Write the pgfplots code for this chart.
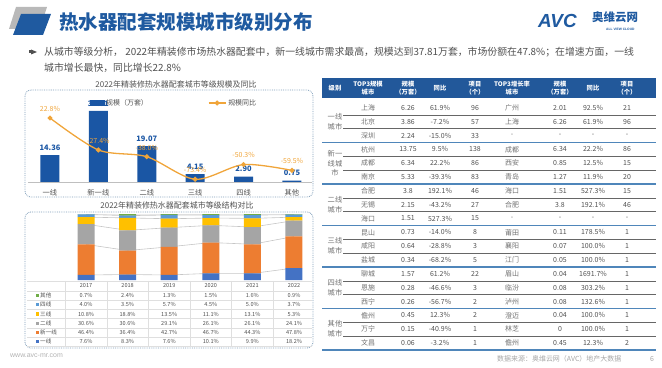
\documentclass[border=0pt]{standalone}
\usepackage{fontspec}
\setmainfont{Noto Sans CJK SC}
\newfontfamily\latinfont{Liberation Sans}
\usepackage{pgfplots}
\usepackage{pgfplotstable}
\pgfplotsset{compat=1.18}
\definecolor{titleblue}{HTML}{1F5AA0}
\definecolor{barblue}{HTML}{1A56A4}
\definecolor{lineorange}{HTML}{F0A53A}
\definecolor{hdrblue}{HTML}{22589A}
\definecolor{grpline}{HTML}{4F86BA}
\definecolor{txtgray}{HTML}{505050}
\definecolor{citygray}{HTML}{707070}
\definecolor{boxc}{HTML}{7F9DB9}
\definecolor{cA}{HTML}{4472C4}
\definecolor{cB}{HTML}{ED7D31}
\definecolor{cC}{HTML}{A5A5A5}
\definecolor{cD}{HTML}{FFC000}
\definecolor{cE}{HTML}{5B9BD5}
\definecolor{cF}{HTML}{70AD47}

\pgfplotstableread{
x v
0 14.36
1 37.81
2 19.07
3 4.15
4 2.90
5 0.75
}\scaletab
\pgfplotstableread{
x v
0 22.8
1 -27.4
2 -38.0
3 -73.4
4 -50.3
5 -59.5
}\yoytab
\pgfplotstableread{
x yi xin er san si qt
0 7.6 46.4 30.6 10.8 4.0 0.7
1 8.3 36.4 30.6 18.8 3.5 2.4
2 7.6 42.7 29.1 13.5 5.7 1.3
3 10.1 46.7 26.1 11.1 4.5 1.5
4 9.9 44.3 26.1 13.1 5.0 1.6
5 18.2 47.8 24.1 5.3 3.7 0.9
}\structtab

\tikzset{
  tcity/.style={text=citygray, font=\fontsize{7}{8}\selectfont, inner sep=0pt},
  tnum/.style={text=txtgray, font=\fontsize{7}{8}\selectfont, inner sep=0pt},
  thdr/.style={text=white, font=\bfseries\fontsize{6.3}{7.6}\selectfont, align=center, inner sep=0pt},
  tlev/.style={text=citygray, font=\fontsize{7.3}{10}\selectfont, align=center, inner sep=0pt},
  stxt/.style={text=txtgray, font=\fontsize{5.6}{6}\selectfont, inner sep=0pt},
}
\newcommand{\trow}[9]{%
  \pgfmathsetmacro{\yy}{101+13.83*(#1-0.5)}%
  \node[tcity] at (368,\yy) {#2};
  \node[tnum] at (408,\yy) {#3};
  \node[tnum] at (440,\yy) {#4};
  \node[tnum] at (475,\yy) {#5};
  \node[tcity] at (512,\yy) {#6};
  \node[tnum] at (560,\yy) {#7};
  \node[tnum] at (593,\yy) {#8};
  \node[tnum] at (627,\yy) {#9};
}
\newcommand{\srow}[9]{%
  \fill[#2] (35.5,#1-1.6) rectangle (38.7,#1+1.6);
  \node[stxt,anchor=west] at (40,#1) {#3};
  \node[stxt] at (86,#1) {#4\%};
  \node[stxt] at (127.6,#1) {#5\%};
  \node[stxt] at (169.2,#1) {#6\%};
  \node[stxt] at (210.8,#1) {#7\%};
  \node[stxt] at (252.4,#1) {#8\%};
  \node[stxt] at (294,#1) {#9\%};
}

\begin{document}
\begin{tikzpicture}[x=1bp,y=1bp]
\path[use as bounding box] (0,0) rectangle (662,367);

\begin{scope}[y=-1bp, shift={(0,367bp)}]
% title decoration
\fill[gray!55] (16,7) -- (47,7) -- (40,29) -- (9,29) -- cycle;
\fill[titleblue] (21,14) -- (51,14) -- (43,35) -- (13,35) -- cycle;
\node[anchor=west, text=titleblue, font=\bfseries\fontsize{19.6}{20}\selectfont, inner sep=0pt] at (59,22) {热水器配套规模城市级别分布};
% logo
\node[anchor=west, text=titleblue, font=\latinfont\bfseries\itshape\fontsize{19}{20}\selectfont, inner sep=0pt] at (538,21) {AVC};
\node[anchor=west, text=titleblue, font=\bfseries\fontsize{11.5}{12}\selectfont, inner sep=0pt] at (592,17) {奥维云网};
\node[anchor=west, text=titleblue, font=\latinfont\bfseries\fontsize{3.3}{4}\selectfont, inner sep=0pt] at (606,29) {ALL VIEW CLOUD};
% bullet text
\fill[txtgray] (31,49.5) -- (37,52) -- (31,54.5) -- cycle;
\fill[txtgray] (29,50.5) rectangle (30.5,53.5);
\node[anchor=west, text=txtgray, font=\fontsize{9.9}{12}\selectfont, inner sep=0pt] at (44,52) {从城市等级分析， 2022年精装修市场热水器配套中，新一线城市需求最高，规模达到37.81万套，市场份额在47.8\%；在增速方面，一线};
\node[anchor=west, text=txtgray, font=\fontsize{9.9}{12}\selectfont, inner sep=0pt] at (44,68) {城市增长最快，同比增长22.8\%};

% chart boxes and titles
\draw[boxc, densely dotted, line width=0.8bp, rounded corners=6bp] (25,90) rectangle (313,197);
\draw[boxc, densely dotted, line width=0.8bp, rounded corners=6bp] (25,212) rectangle (313,348);
\node[text=txtgray, font=\fontsize{8}{9}\selectfont, inner sep=0pt] at (176,84) {2022年精装修热水器配套城市等级规模及同比};
\node[text=txtgray, font=\fontsize{8}{9}\selectfont, inner sep=0pt] at (177,205) {2022年精装修热水器配套城市等级结构对比};

% structure data table
\foreach \yy in {281,291,300.2,309.4,318.6,327.8,337,346.2} \draw[gray!25, line width=0.5bp] (27,\yy) -- (312,\yy);
\foreach \xx in {65.2,106.8,148.4,190,231.6,273.2} \draw[gray!25, line width=0.5bp] (\xx,281) -- (\xx,346.2);
\foreach \yr/\xx in {2017/86,2018/127.6,2019/169.2,2020/210.8,2021/252.4,2022/294} \node[stxt] at (\xx,286) {\yr};
\srow{295.6}{cF}{其他}{0.7}{2.4}{1.3}{1.5}{1.6}{0.9}
\srow{304.8}{cE}{四线}{4.0}{3.5}{5.7}{4.5}{5.0}{3.7}
\srow{314}{cD}{三线}{10.8}{18.8}{13.5}{11.1}{13.1}{5.3}
\srow{323.2}{cC}{二线}{30.6}{30.6}{29.1}{26.1}{26.1}{24.1}
\srow{332.4}{cB}{新一线}{46.4}{36.4}{42.7}{46.7}{44.3}{47.8}
\srow{341.6}{cA}{一线}{7.6}{8.3}{7.6}{10.1}{9.9}{18.2}

% right table
\fill[hdrblue] (322,78) rectangle (656,98.5);
\node[thdr] at (335,88) {级别};
\node[thdr] at (368,88) {TOP3规模\\城市};
\node[thdr] at (408,88) {规模\\（万套）};
\node[thdr] at (440,88) {同比};
\node[thdr] at (475,88) {项目\\（个）};
\node[thdr] at (512,88) {TOP3增长率\\城市};
\node[thdr] at (560,88) {规模\\（万套）};
\node[thdr] at (593,88) {同比};
\node[thdr] at (627,88) {项目\\（个）};
\foreach \k in {1,2,4,5,7,8,10,11,13,14,16,17} \draw[gray!80!black, line width=0.5bp] (343,{101+13.83*\k}) -- (656,{101+13.83*\k});
\foreach \k in {3,6,9,12,15,18} \draw[grpline, line width=1.3bp] (322,{101+13.83*\k}) -- (656,{101+13.83*\k});
\trow{1}{上海}{6.26}{61.9\%}{96}{广州}{2.01}{92.5\%}{21}
\trow{2}{北京}{3.86}{-7.2\%}{57}{上海}{6.26}{61.9\%}{96}
\trow{3}{深圳}{2.24}{-15.0\%}{33}{-}{-}{-}{-}
\trow{4}{杭州}{13.75}{9.5\%}{138}{成都}{6.34}{22.2\%}{86}
\trow{5}{成都}{6.34}{22.2\%}{86}{西安}{0.85}{12.5\%}{15}
\trow{6}{南京}{5.33}{-39.3\%}{83}{青岛}{1.27}{11.9\%}{20}
\trow{7}{合肥}{3.8}{192.1\%}{46}{海口}{1.51}{527.3\%}{15}
\trow{8}{无锡}{2.15}{-43.2\%}{27}{合肥}{3.8}{192.1\%}{46}
\trow{9}{海口}{1.51}{527.3\%}{15}{-}{-}{-}{-}
\trow{10}{昆山}{0.73}{-14.0\%}{8}{莆田}{0.11}{178.5\%}{1}
\trow{11}{咸阳}{0.64}{-28.8\%}{3}{襄阳}{0.07}{100.0\%}{1}
\trow{12}{盐城}{0.34}{-68.2\%}{5}{江门}{0.05}{100.0\%}{1}
\trow{13}{聊城}{1.57}{61.2\%}{22}{眉山}{0.04}{1691.7\%}{1}
\trow{14}{恩施}{0.28}{-46.6\%}{3}{临汾}{0.08}{303.2\%}{1}
\trow{15}{西宁}{0.26}{-56.7\%}{2}{泸州}{0.08}{132.6\%}{1}
\trow{16}{儋州}{0.45}{12.3\%}{2}{澄迈}{0.04}{100.0\%}{1}
\trow{17}{万宁}{0.15}{-40.9\%}{1}{林芝}{0}{100.0\%}{1}
\trow{18}{文昌}{0.06}{-3.2\%}{1}{儋州}{0.45}{12.3\%}{2}
\node[tlev] at (335,{101+13.83*1.5}) {一线\\城市};
\node[tlev] at (335,{101+13.83*4.5}) {新一\\线城\\市};
\node[tlev] at (335,{101+13.83*7.5}) {二线\\城市};
\node[tlev] at (335,{101+13.83*10.5}) {三线\\城市};
\node[tlev] at (335,{101+13.83*13.5}) {四线\\城市};
\node[tlev] at (335,{101+13.83*16.5}) {其他\\城市};

% footer
\node[anchor=west, text=gray!60, font=\latinfont\fontsize{7}{8}\selectfont, inner sep=0pt] at (10,356) {www.avc-mr.com};
\node[anchor=west, text=gray!70, font=\fontsize{7}{8}\selectfont, inner sep=0pt] at (497,359) {数据来源：奥维云网（AVC）地产大数据};
\node[anchor=west, text=gray!70, font=\fontsize{7}{8}\selectfont, inner sep=0pt] at (650,359) {6};
\end{scope}

% ---- chart 1: bars
\begin{axis}[at={(28.2bp,185bp)}, anchor=south west, scale only axis,
  width=284.1bp, height=87bp, xmin=-0.45, xmax=5.42, ymin=0, ymax=46.3,
  axis y line=none, axis x line*=bottom, x axis line style={draw=gray!50, -},
  xtick=data, xticklabels={一线,新一线,二线,三线,四线,其他},
  xtick style={draw=none}, ytick=\empty,
  xticklabel style={font=\fontsize{7.3}{8}\selectfont, text=txtgray},
  ybar, bar width=19bp,
  nodes near coords, nodes near coords align={vertical},
  every node near coord/.append style={font=\bfseries\fontsize{7.5}{8}\selectfont, text=barblue, yshift=1bp},
  /pgf/number format/.cd, fixed, fixed zerofill, precision=2, assume math mode=true]
\addplot[fill=barblue, draw=none] table[x=x,y=v]{\scaletab};
\end{axis}
% ---- chart 1: line
\begin{axis}[at={(28.2bp,185bp)}, anchor=south west, scale only axis,
  width=284.1bp, height=87bp, xmin=-0.45, xmax=5.42, ymin=-77.7, ymax=58.9,
  hide axis, clip=false,
  legend style={at={(0.513,0.908)}, anchor=center, draw=none, fill=none,
    font=\fontsize{7}{8}\selectfont, text=txtgray, legend columns=2,
    /tikz/every even column/.append style={column sep=58bp}},
  nodes near coords={\pgfmathprintnumber[fixed,fixed zerofill,precision=1,assume math mode=true]{\pgfplotspointmeta}\%},
  every node near coord/.append style={font=\fontsize{7}{8}\selectfont, text=lineorange, anchor=south, yshift=2.5bp}]
\addlegendimage{legend image code/.code={\fill[barblue] (0bp,-2.5bp) rectangle (14bp,2.5bp);}}
\addlegendentry{规模（万套）}
\addplot[lineorange, line width=1.3bp, smooth, mark=*, mark size=1.8bp, mark options={fill=lineorange, draw=lineorange}] table[x=x,y=v]{\yoytab};
\addlegendentry{规模同比}
\end{axis}

% ---- chart 2: series lines (stacked)
\begin{axis}[at={(65.2bp,87bp)}, anchor=south west, scale only axis,
  width=247.5bp, height=66bp, xmin=-0.5, xmax=5.45, ymin=0, ymax=100.1,
  hide axis, stack plots=y]
\addplot[gray!45, line width=0.6bp] table[x=x,y=yi]{\structtab};
\addplot[gray!45, line width=0.6bp] table[x=x,y=xin]{\structtab};
\addplot[gray!45, line width=0.6bp] table[x=x,y=er]{\structtab};
\addplot[gray!45, line width=0.6bp] table[x=x,y=san]{\structtab};
\addplot[gray!45, line width=0.6bp] table[x=x,y=si]{\structtab};
\addplot[gray!45, line width=0.6bp] table[x=x,y=qt]{\structtab};
\end{axis}
% ---- chart 2: stacked bars
\begin{axis}[at={(65.2bp,87bp)}, anchor=south west, scale only axis,
  width=247.5bp, height=66bp, xmin=-0.5, xmax=5.45, ymin=0, ymax=100.1,
  hide axis, ybar stacked, bar width=17bp]
\addplot[fill=cA, draw=none] table[x=x,y=yi]{\structtab};
\addplot[fill=cB, draw=none] table[x=x,y=xin]{\structtab};
\addplot[fill=cC, draw=none] table[x=x,y=er]{\structtab};
\addplot[fill=cD, draw=none] table[x=x,y=san]{\structtab};
\addplot[fill=cE, draw=none] table[x=x,y=si]{\structtab};
\addplot[fill=cF, draw=none] table[x=x,y=qt]{\structtab};
\end{axis}
\end{tikzpicture}
\end{document}
